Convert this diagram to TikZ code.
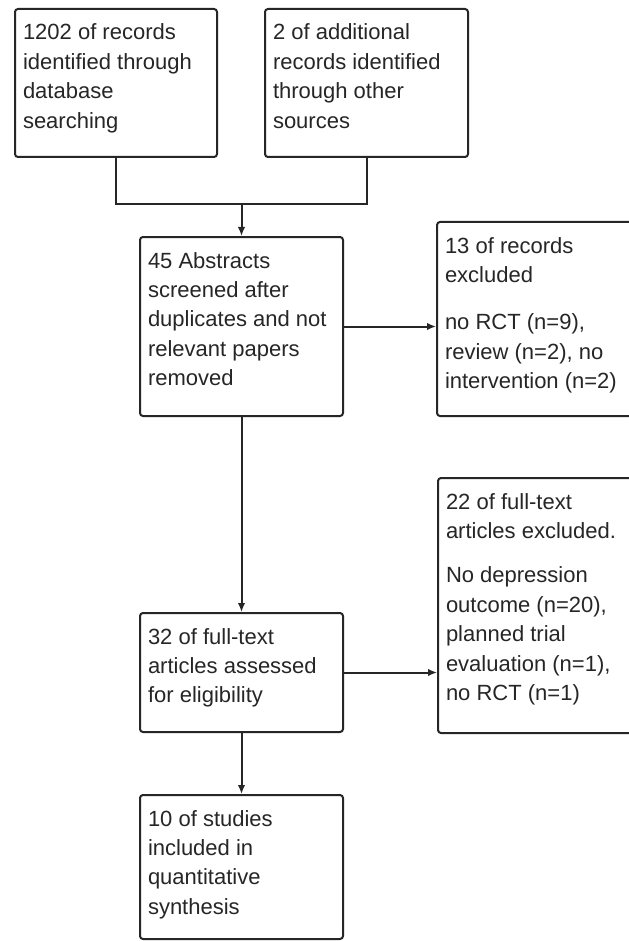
\documentclass[tikz,border=0pt]{standalone}
\usepackage{fontspec}
\setmainfont{Liberation Sans}
\usetikzlibrary{arrows.meta}
\definecolor{ink}{HTML}{262626}
\newcommand\bxt[3]{\parbox[c][#2][t]{#1}{\rule{0pt}{15.5pt}#3}}
\begin{document}
\begin{tikzpicture}[x=1pt,y=-1pt,
  box/.style={draw=ink, line width=1pt, rounded corners=1.5pt, anchor=north west,
    inner xsep=4pt, inner ysep=0pt, text=ink, font=\fontsize{11}{14.7}\selectfont},
  conn/.style={draw=ink, line width=1pt},
  arr/.style={conn, -{Latex[length=4.5pt,width=3.8pt]}}]
\useasboundingbox[fill=white] (0,0) rectangle (314,470.5);

\node[box] (b1) at (7,4) {\bxt{93pt}{74pt}{1202 of records\\identified through\\database\\searching}};
\node[box] (b2) at (132,4) {\bxt{93.5pt}{74pt}{2 of additional\\records identified\\through other\\sources}};
\node[box] (b3) at (69.5,118) {\bxt{93.5pt}{89.5pt}{45 Abstracts\\screened after\\duplicates and not\\relevant papers\\removed}};
\node[box] (b4) at (218,110.5) {\bxt{104pt}{97pt}{13 of records\\excluded\\[9pt]no RCT (n=9),\\review (n=2), no\\intervention (n=2)}};
\node[box] (b5) at (218.5,238.5) {\bxt{104pt}{127.5pt}{22 of full-text\\articles excluded.\\[7.5pt]No depression\\outcome (n=20),\\planned trial\\evaluation (n=1),\\no RCT (n=1)}};
\node[box] (b6) at (69.5,306) {\bxt{93.5pt}{59.5pt}{32 of full-text\\articles assessed\\for eligibility}};
\node[box] (b7) at (69.5,397) {\bxt{93.5pt}{72pt}{10 of studies\\included in\\quantitative\\synthesis}};

\coordinate (j) at (b3.north |- 0,102);
\draw[conn] (b1.south) |- (j) -| (b2.south);
\draw[arr] (j) -- (b3.north);
\draw[arr] (b3.east) -- (b3.east -| b4.west);
\draw[arr] (b3.south) -- (b6.north);
\draw[arr] (b6.east) -- (b6.east -| b5.west);
\draw[arr] (b6.south) -- (b7.north);
\end{tikzpicture}
\end{document}
